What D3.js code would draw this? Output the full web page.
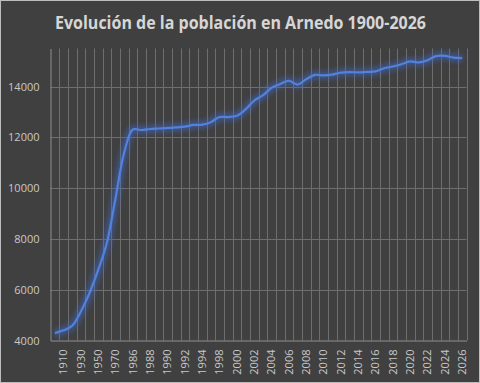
<!DOCTYPE html>
<html>
<head>
<meta charset="utf-8">
<script src="https://cdn.jsdelivr.net/npm/d3@7"></script>
<style>
  body { margin: 0; background: #404040; }
  svg { display: block; }
</style>
</head>
<body>
<div id="chart"></div>
<script>
// categories (years) and population
var years = ["1900","1910","1920","1930","1940","1950","1960","1970","1981",
  "1986","1987","1988","1989","1990","1991","1992","1993","1994","1996",
  "1998","1999","2000","2001","2002","2003","2004","2005","2006","2007","2008",
  "2009","2010","2011","2012","2013","2014","2015","2016","2017","2018","2019",
  "2020","2021","2022","2023","2024","2025","2026"];
var population = [4290, 4400, 4580, 5140, 5870, 6780, 7840, 9600, 11400,
  12310, 12290, 12330, 12350, 12370, 12390, 12420, 12490, 12500, 12600,
  12800, 12800, 12850, 13100, 13450, 13650, 13950, 14100, 14230, 14080, 14290,
  14460, 14440, 14470, 14550, 14570, 14560, 14580, 14600, 14720, 14790, 14880,
  14990, 14950, 15040, 15200, 15210, 15140, 15120];
var yTicks = [4000, 6000, 8000, 10000, 12000, 14000];
var title = "Evolución de la población en Arnedo 1900-2026";

var width = 480, height = 383;
var svg = d3.select("#chart").append("svg")
    .attr("width", width)
    .attr("height", height);

// chart area
svg.append("rect")
    .attr("x", 0.5).attr("y", 0.5)
    .attr("width", width - 1).attr("height", height - 1)
    .attr("fill", "#404040")
    .attr("stroke", "#bdbdbd");

var x = d3.scaleBand().domain(years).range([50.5, 466.5]);
var y = d3.scaleLinear().domain([4000, 15500]).range([340.5, 48.5]);

// vertical gridlines at category boundaries
var bounds = years.map(function(d) { return x(d); }).concat([x.range()[1]]);
svg.append("g").selectAll("line")
    .data(bounds.slice(1))
    .enter().append("line")
    .attr("x1", function(d) { return Math.round(d) + 0.5; })
    .attr("x2", function(d) { return Math.round(d) + 0.5; })
    .attr("y1", y.range()[1])
    .attr("y2", y.range()[0])
    .attr("stroke", "#6e6e6e")
    .attr("stroke-width", 1);

// horizontal gridlines
svg.append("g").selectAll("line")
    .data(yTicks.slice(1))
    .enter().append("line")
    .attr("x1", x.range()[0])
    .attr("x2", x.range()[1])
    .attr("y1", function(d) { return Math.round(y(d)) + 0.5; })
    .attr("y2", function(d) { return Math.round(y(d)) + 0.5; })
    .attr("stroke", "#6e6e6e")
    .attr("stroke-width", 1);

// y axis
var yAxis = svg.append("g")
    .attr("transform", "translate(" + x.range()[0] + ",0)")
    .call(d3.axisLeft(y).tickValues(yTicks).tickSize(0).tickPadding(11)
      .tickFormat(d3.format("d")));
yAxis.select(".domain").attr("stroke", "#8f8f8f");
yAxis.selectAll("text")
    .attr("fill", "#c8c8c8")
    .attr("font-family", "'Open Sans', sans-serif")
    .attr("font-size", 11);

// x axis, label every other category
var xAxis = svg.append("g")
    .attr("transform", "translate(0," + y.range()[0] + ")")
    .call(d3.axisBottom(x).tickSize(0)
      .tickValues(years.filter(function(d, i) { return i % 2 == 1; })));
xAxis.select(".domain").attr("stroke", "#8f8f8f");
xAxis.selectAll("text")
    .attr("fill", "#c8c8c8")
    .attr("font-family", "'Open Sans', sans-serif")
    .attr("font-size", 11)
    .attr("text-anchor", "end")
    .attr("transform", "rotate(-90)")
    .attr("x", -9)
    .attr("y", 0)
    .attr("dy", "0.35em");

// glow filter
var defs = svg.append("defs");
var f = defs.append("filter").attr("id", "glow")
    .attr("x", "-10%").attr("y", "-10%").attr("width", "120%").attr("height", "120%");
f.append("feGaussianBlur").attr("stdDeviation", 2.8);

var line = d3.line()
    .x(function(d, i) { return x(years[i]) + x.bandwidth() / 2; })
    .y(function(d) { return y(d); })
    .curve(d3.curveCatmullRom.alpha(0.5));

svg.append("path")
    .datum(population)
    .attr("d", line)
    .attr("fill", "none")
    .attr("stroke", "#3e6ad0")
    .attr("stroke-width", 8)
    .attr("stroke-opacity", 0.5)
    .attr("filter", "url(#glow)");

svg.append("path")
    .datum(population)
    .attr("d", line)
    .attr("fill", "none")
    .attr("stroke", "#5282dc")
    .attr("stroke-width", 2.2)
    .attr("stroke-linejoin", "round");

// title, squeezed to the reference width
svg.append("text")
    .attr("x", 240.5)
    .attr("y", 29)
    .attr("text-anchor", "middle")
    .attr("fill", "#d6d6d6")
    .attr("font-family", "'Open Sans', sans-serif")
    .attr("font-weight", "bold")
    .attr("font-size", 17.5)
    .attr("textLength", 371)
    .attr("lengthAdjust", "spacingAndGlyphs")
    .text(title);
</script>
</body>
</html>
